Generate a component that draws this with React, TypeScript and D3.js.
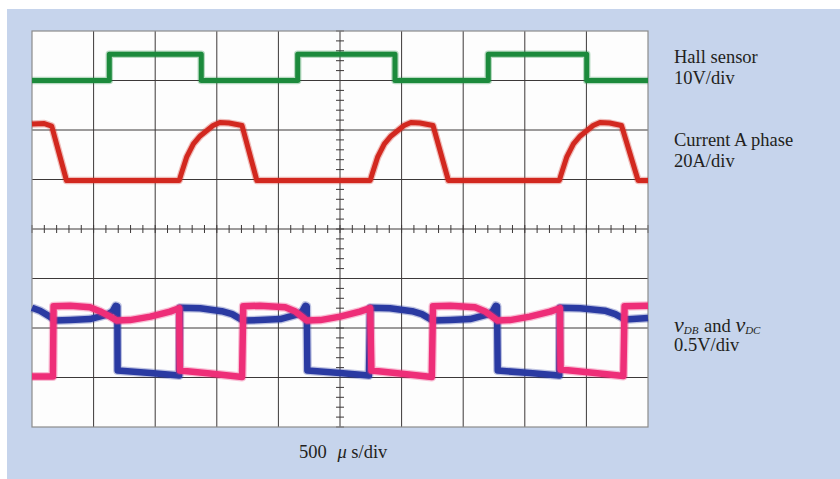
import { useEffect, useRef } from "react";
import * as d3 from "d3";

// time in divisions (500 us/div), level in divisions from screen centre
const hallTrace: [number, number][] = [
  [0, 3.0], [1.255, 3.0], [1.255, 3.53], [2.748, 3.53], [2.748, 3.0],
  [4.313, 3.0], [4.313, 3.53], [5.893, 3.53], [5.893, 3.0],
  [7.407, 3.0], [7.407, 3.53], [9.005, 3.53], [9.005, 3.0], [10, 3.0],
];

const currentTrace: [number, number][] = [
  [0, 2.12], [0.2, 2.13], [0.32, 2.08], [0.56, 0.98],
  [2.39, 0.98], [2.43, 1.14], [2.51, 1.45], [2.62, 1.72], [2.73, 1.88], [2.84, 1.99], [2.94, 2.09], [3.05, 2.15], [3.2, 2.14], [3.41, 2.09], [3.65, 0.98],
  [5.49, 0.98], [5.53, 1.14], [5.61, 1.45], [5.72, 1.72], [5.83, 1.88], [5.94, 1.99], [6.04, 2.09], [6.15, 2.15], [6.3, 2.14], [6.51, 2.09], [6.76, 0.98],
  [8.56, 0.98], [8.6, 1.14], [8.68, 1.45], [8.79, 1.72], [8.9, 1.88], [9.01, 1.99], [9.11, 2.09], [9.22, 2.15], [9.38, 2.14], [9.57, 2.09], [9.84, 0.98],
  [10, 0.98],
];

// vDB (blue)
const vdbTrace: [number, number][] = [
  [0, -1.59], [0.13, -1.65], [0.29, -1.77], [0.37, -1.85],
  [0.62, -1.84], [0.94, -1.82], [1.22, -1.73], [1.31, -1.66], [1.36, -1.55], [1.385, -1.56],
  [1.39, -2.86], [1.92, -2.91], [2.39, -2.96],
  [2.4, -1.59], [2.73, -1.6], [3.08, -1.66], [3.25, -1.72], [3.43, -1.85],
  [3.7, -1.84], [4.03, -1.82], [4.3, -1.73], [4.39, -1.66], [4.44, -1.55], [4.46, -1.56],
  [4.47, -2.86], [5.0, -2.91], [5.47, -2.96],
  [5.49, -1.59], [5.81, -1.6], [6.17, -1.66], [6.33, -1.72], [6.51, -1.85],
  [6.79, -1.84], [7.11, -1.82], [7.39, -1.73], [7.48, -1.66], [7.53, -1.55], [7.55, -1.56],
  [7.56, -2.86], [8.08, -2.91], [8.56, -2.96],
  [8.57, -1.59], [8.9, -1.6], [9.3, -1.65], [9.47, -1.72], [9.63, -1.83], [10, -1.8],
];

// vDC (pink)
const vdcTrace: [number, number][] = [
  [0, -2.98], [0.34, -2.98],
  [0.35, -1.56], [0.62, -1.55], [0.94, -1.58], [1.1, -1.66], [1.27, -1.77], [1.38, -1.85],
  [1.59, -1.84], [1.92, -1.77], [2.24, -1.67], [2.39, -1.6],
  [2.4, -2.86], [2.89, -2.92], [3.41, -2.99],
  [3.43, -1.56], [3.7, -1.55], [4.11, -1.58], [4.27, -1.66], [4.38, -1.77], [4.46, -1.85],
  [4.68, -1.84], [5.0, -1.77], [5.32, -1.67], [5.49, -1.6],
  [5.51, -2.86], [5.97, -2.92], [6.49, -2.99],
  [6.51, -1.56], [6.79, -1.55], [7.19, -1.58], [7.35, -1.66], [7.47, -1.77], [7.56, -1.85],
  [7.76, -1.84], [8.08, -1.77], [8.41, -1.67], [8.57, -1.6],
  [8.58, -2.84], [9.06, -2.9], [9.6, -2.97],
  [9.62, -1.56], [10, -1.55],
];

const xDivs = d3.range(0, 11);
const yDivs = d3.range(-4, 5);
const minorTicks = d3.range(0, 51).map((i) => i / 5);
const minorTicksY = d3.range(0, 41).map((i) => i / 5 - 4);

const traces = [
  { data: hallTrace, color: "#1c8a3c", width: 5 },
  { data: currentTrace, color: "#d2281f", width: 5 },
  { data: vdbTrace, color: "#2a3aa2", width: 6.5 },
  { data: vdcTrace, color: "#ee2e78", width: 6.5 },
];

export default function App() {
  const ref = useRef<SVGSVGElement>(null);

  useEffect(() => {
    const svg = d3.select(ref.current);
    svg.selectAll("*").remove();

    const x = d3.scaleLinear().domain([0, 10]).range([32, 648]);
    const y = d3.scaleLinear().domain([-4, 4]).range([427, 31]);

    svg.append("rect").attr("width", 840).attr("height", 479).attr("fill", "#ffffff");
    svg.append("rect").attr("x", 7).attr("y", 9).attr("width", 833).attr("height", 470).attr("fill", "#c6d4ec");
    svg.append("rect").attr("x", x(0)).attr("y", y(4)).attr("width", x(10) - x(0)).attr("height", y(-4) - y(4)).attr("fill", "#fdfdfd");

    const grid = svg.append("g").attr("stroke", "#3c3838").attr("stroke-width", 1);
    grid.selectAll("line.v")
      .data(xDivs.slice(1, -1))
      .enter().append("line")
      .attr("x1", (d) => x(d)).attr("x2", (d) => x(d))
      .attr("y1", y(4)).attr("y2", y(-4));
    grid.selectAll("line.h")
      .data(yDivs.slice(1, -1))
      .enter().append("line")
      .attr("class", "h")
      .attr("y1", (d) => y(d)).attr("y2", (d) => y(d))
      .attr("x1", x(0)).attr("x2", x(10));

    // minor ticks on the centre axes
    grid.selectAll("line.mx")
      .data(minorTicks)
      .enter().append("line")
      .attr("class", "mx")
      .attr("x1", (d) => x(d)).attr("x2", (d) => x(d))
      .attr("y1", y(0) - 4).attr("y2", y(0) + 4);
    grid.selectAll("line.my")
      .data(minorTicksY)
      .enter().append("line")
      .attr("class", "my")
      .attr("y1", (d) => y(d)).attr("y2", (d) => y(d))
      .attr("x1", x(5) - 4).attr("x2", x(5) + 4);

    svg.append("rect")
      .attr("x", x(0)).attr("y", y(4))
      .attr("width", x(10) - x(0)).attr("height", y(-4) - y(4))
      .attr("fill", "none").attr("stroke", "#8c8c8c").attr("stroke-width", 1.2);

    const line = d3.line<[number, number]>()
      .x((d) => x(d[0]))
      .y((d) => y(d[1]));

    const g = svg.append("g");
    traces.forEach((t) => {
      g.append("path")
        .attr("d", line(t.data))
        .attr("fill", "none")
        .attr("stroke", t.color)
        .attr("stroke-opacity", 0.3)
        .attr("stroke-width", t.width + 2.5)
        .attr("stroke-linejoin", "round");
      g.append("path")
        .attr("d", line(t.data))
        .attr("fill", "none")
        .attr("stroke", t.color)
        .attr("stroke-width", t.width)
        .attr("stroke-linejoin", "round");
    });
  }, []);

  const font = "'Liberation Serif', 'Times New Roman', serif";

  return (
    <div>
      <svg ref={ref} width={840} height={479} style={{ position: "absolute", left: 0, top: 0 }} />
      <svg width={840} height={479} style={{ position: "absolute", left: 0, top: 0, pointerEvents: "none" }}>
        <g fontFamily={font} fontSize={18.5} fill="#231f20">
          <text x={674} y={63}>Hall sensor</text>
          <text x={674} y={83.5}>10V/div</text>
          <text x={674} y={146}>Current A phase</text>
          <text x={674} y={166.5}>20A/div</text>
          <text x={674} y={332}>
            <tspan fontStyle="italic" fontSize={22}>v</tspan>
            <tspan fontStyle="italic" fontSize={11} dy={2}>DB</tspan>
            <tspan dy={-2} dx={1}> and </tspan>
            <tspan fontStyle="italic" fontSize={22}>v</tspan>
            <tspan fontStyle="italic" fontSize={11} dy={2}>DC</tspan>
          </text>
          <text x={674} y={351}>0.5V/div</text>
          <text x={299} y={457.5}>
            500 <tspan dx={6} fontStyle="italic">μ</tspan> s/div
          </text>
        </g>
      </svg>
    </div>
  );
}
